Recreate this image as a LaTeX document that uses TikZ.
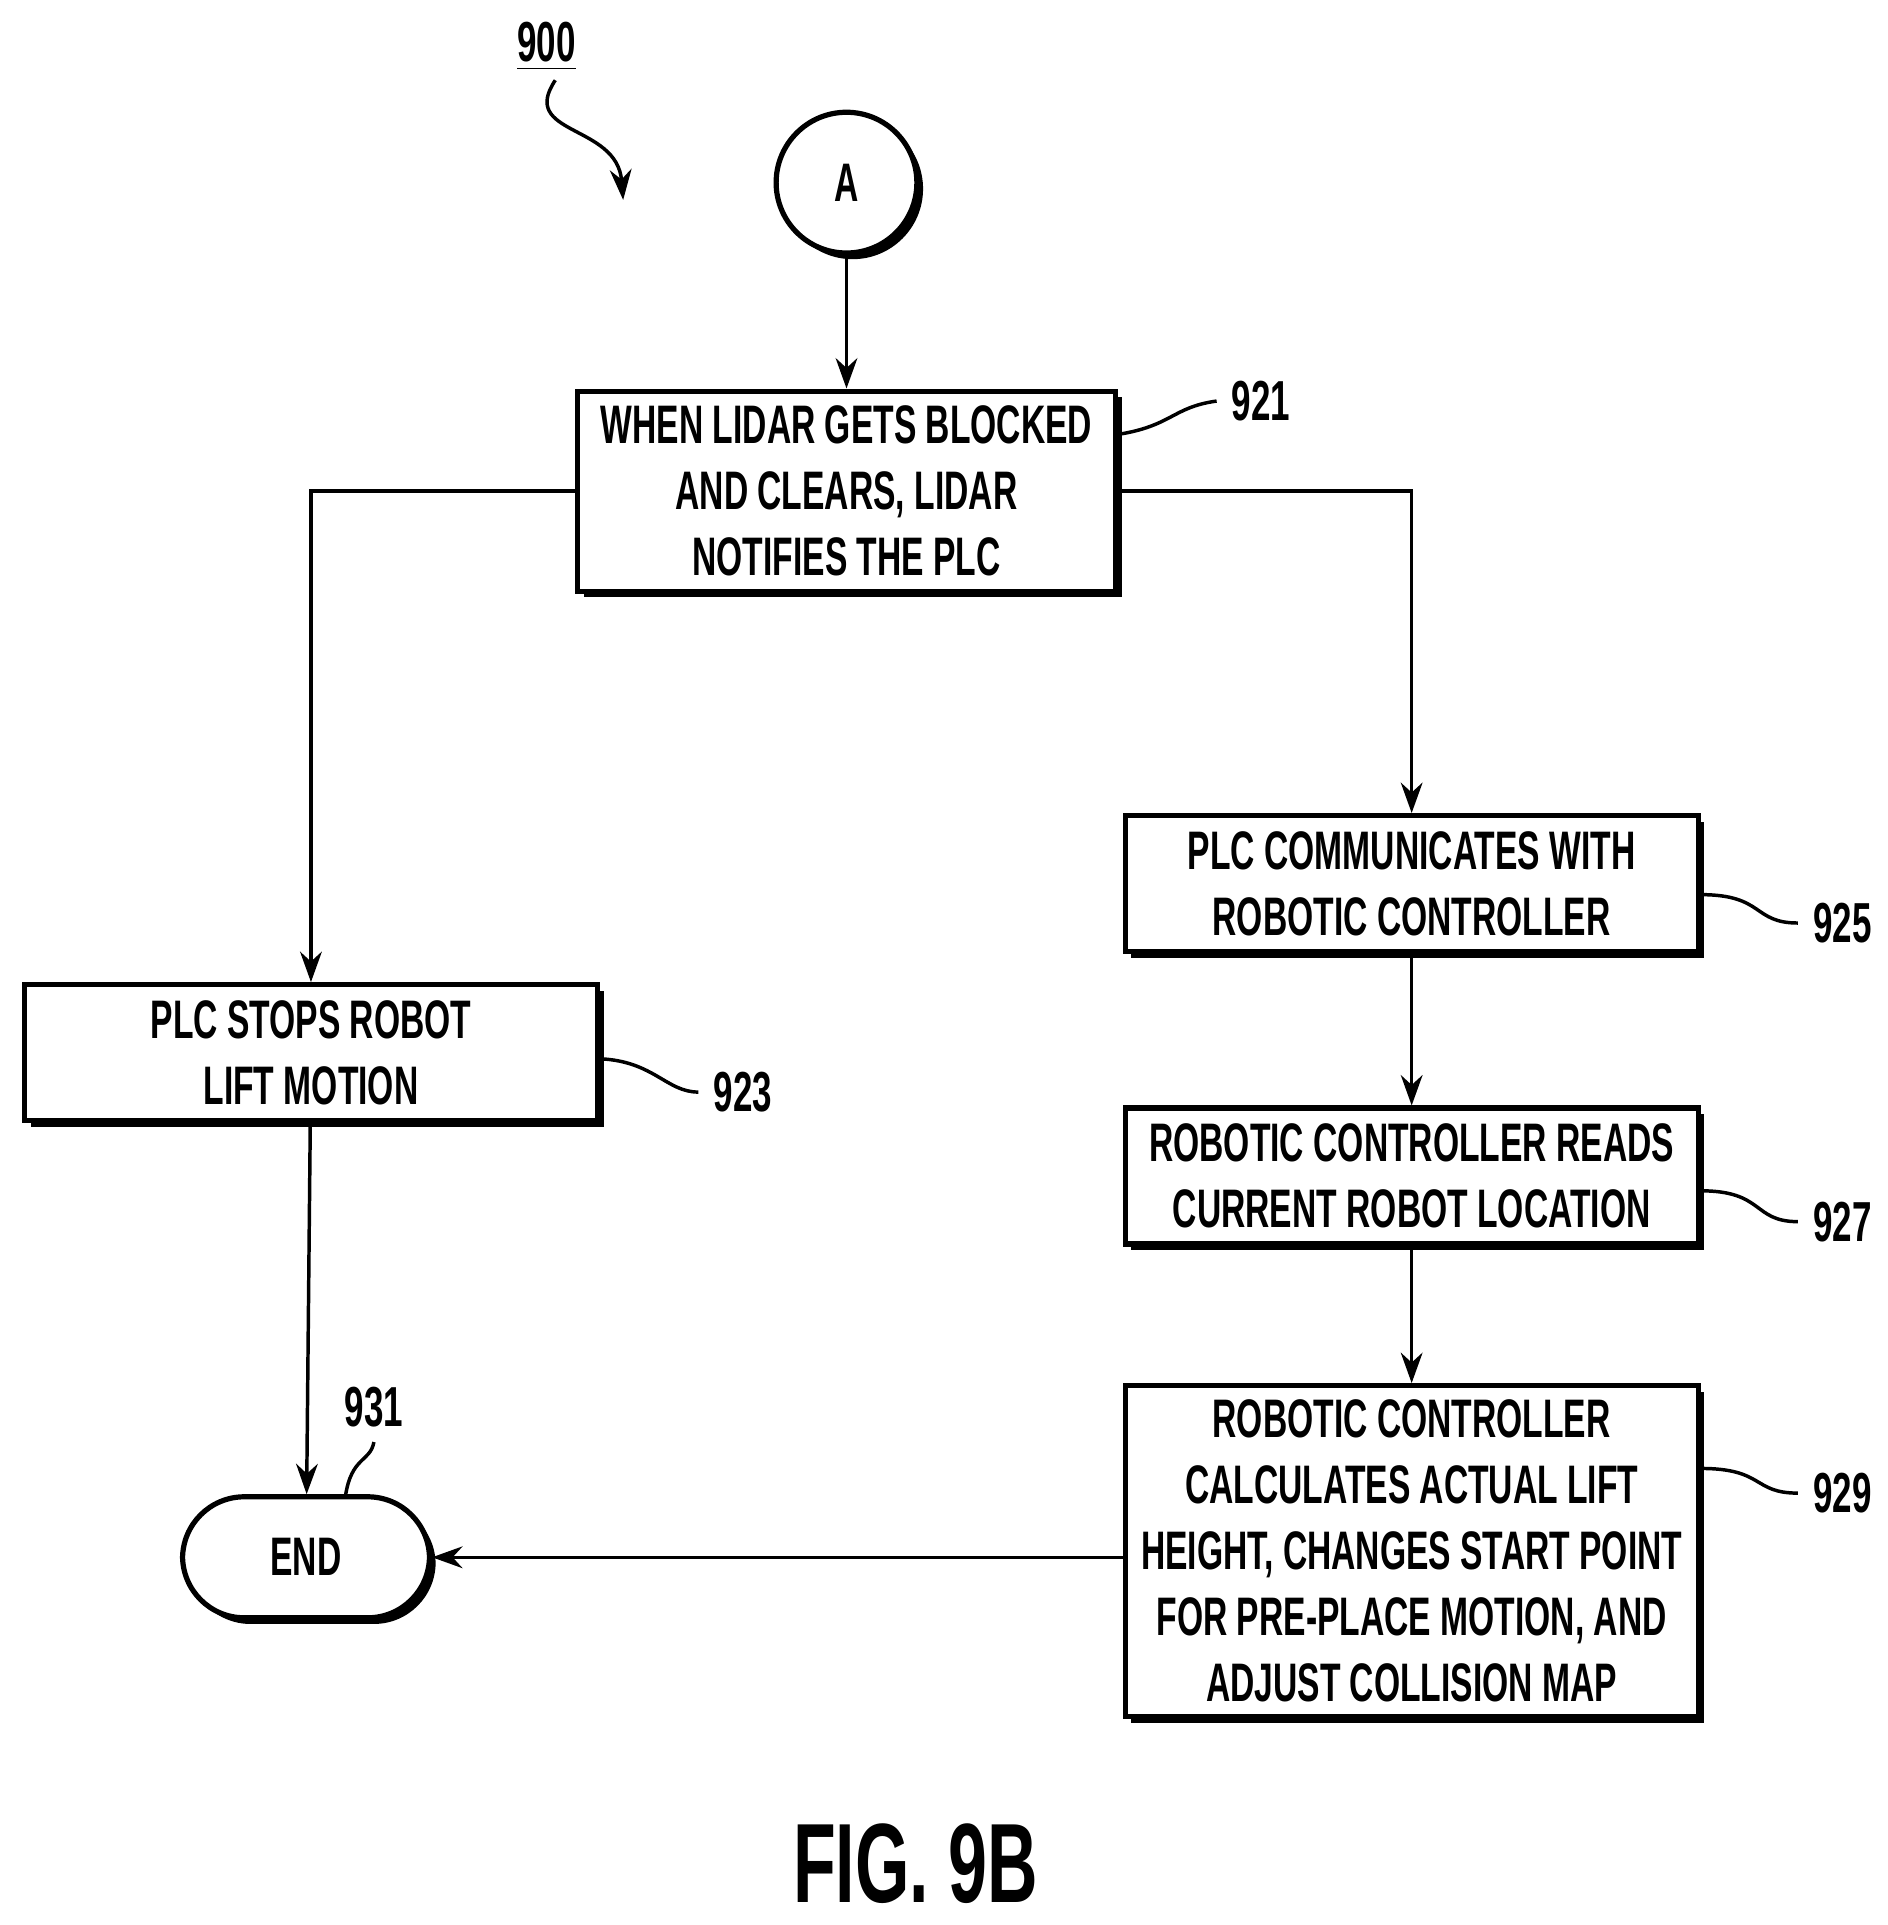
\documentclass[tikz,border=0pt]{standalone}
\usepackage{fontspec}
\setmainfont{Liberation Sans}[FakeStretch=0.62]
\usetikzlibrary{shadows,arrows.meta}
\begin{document}
\begin{tikzpicture}[x=0.01cm,y=-0.01cm,
  box/.style={draw,line width=1.2pt,fill=white,align=center,font=\bfseries\fontsize{12.5}{15.2}\selectfont,
    drop shadow={shadow xshift=0.05cm,shadow yshift=-0.05cm,fill=black,opacity=1},inner sep=0pt},
  lbl/.style={font=\bfseries\fontsize{13}{16}\selectfont},
  arr/.style={-{Stealth[length=7pt,width=5pt]},line width=0.8pt},
  lead/.style={line width=0.8pt}]
\useasboundingbox (0,0) rectangle (1530,1560);
\node[lbl] (n900) at (443,38) {\underline{900}};
\coordinate (s1) at (450,65);
\coordinate (s2) at (505,162);
\draw[arr] (s1) .. controls (420,110) and (500,100) .. (s2);
\node[box,circle,minimum size=1.14cm] (A) at (686,148) {A};
\node[box,minimum width=4.36cm,minimum height=1.62cm] (b921) at (686,398) {WHEN LIDAR GETS BLOCKED\\AND CLEARS, LIDAR\\NOTIFIES THE PLC};
\node[box,minimum width=4.64cm,minimum height=1.1cm] (b923) at (252,853) {PLC STOPS ROBOT\\LIFT MOTION};
\node[box,minimum width=4.64cm,minimum height=1.1cm] (b925) at (1144,716) {PLC COMMUNICATES WITH\\ROBOTIC CONTROLLER};
\node[box,minimum width=4.64cm,minimum height=1.1cm] (b927) at (1144,953) {ROBOTIC CONTROLLER READS\\CURRENT ROBOT LOCATION};
\node[box,minimum width=4.64cm,minimum height=2.68cm] (b929) at (1144,1257) {ROBOTIC CONTROLLER\\CALCULATES ACTUAL LIFT\\HEIGHT, CHANGES START POINT\\FOR PRE-PLACE MOTION, AND\\ADJUST COLLISION MAP};
\node[box,rounded corners=0.5cm,minimum width=2cm,minimum height=0.98cm] (end) at (248,1262) {END};
\node[font=\bfseries\fontsize{26}{30}\selectfont] (fig) at (742,1510) {FIG. 9B};
\node[lbl] (l921) at (1022,325) {921};
\node[lbl] (l923) at (602,885) {923};
\node[lbl] (l925) at (1493,748) {925};
\node[lbl] (l927) at (1493,990) {927};
\node[lbl] (l929) at (1493,1210) {929};
\node[lbl] (l931) at (303,1140) {931};
\draw[lead] (b921.east|-0,352) .. controls (950,345) and (950,330) .. (l921.west);
\draw[lead] (b923.east|-0,858) .. controls (530,860) and (540,885) .. (l923.west);
\draw[lead] (b925.east|-0,725) .. controls (1430,725) and (1420,748) .. (l925.west);
\draw[lead] (b927.east|-0,965) .. controls (1430,965) and (1420,990) .. (l927.west);
\draw[lead] (b929.east|-0,1190) .. controls (1430,1190) and (1420,1210) .. (l929.west);
\draw[lead] (280,1212) .. controls (285,1180) and (300,1185) .. (l931.south);
\draw[arr] (A) -- (b921);
\draw[arr] (b921.west|-0,398) -| (b923.north);
\draw[arr] (b921.east|-0,398) -| (b925.north);
\draw[arr] (b925) -- (b927);
\draw[arr] (b927) -- (b929);
\draw[arr] (b923) -- (end);
\draw[arr] (b929.west|-end) -- (end);
\end{tikzpicture}
\end{document}
